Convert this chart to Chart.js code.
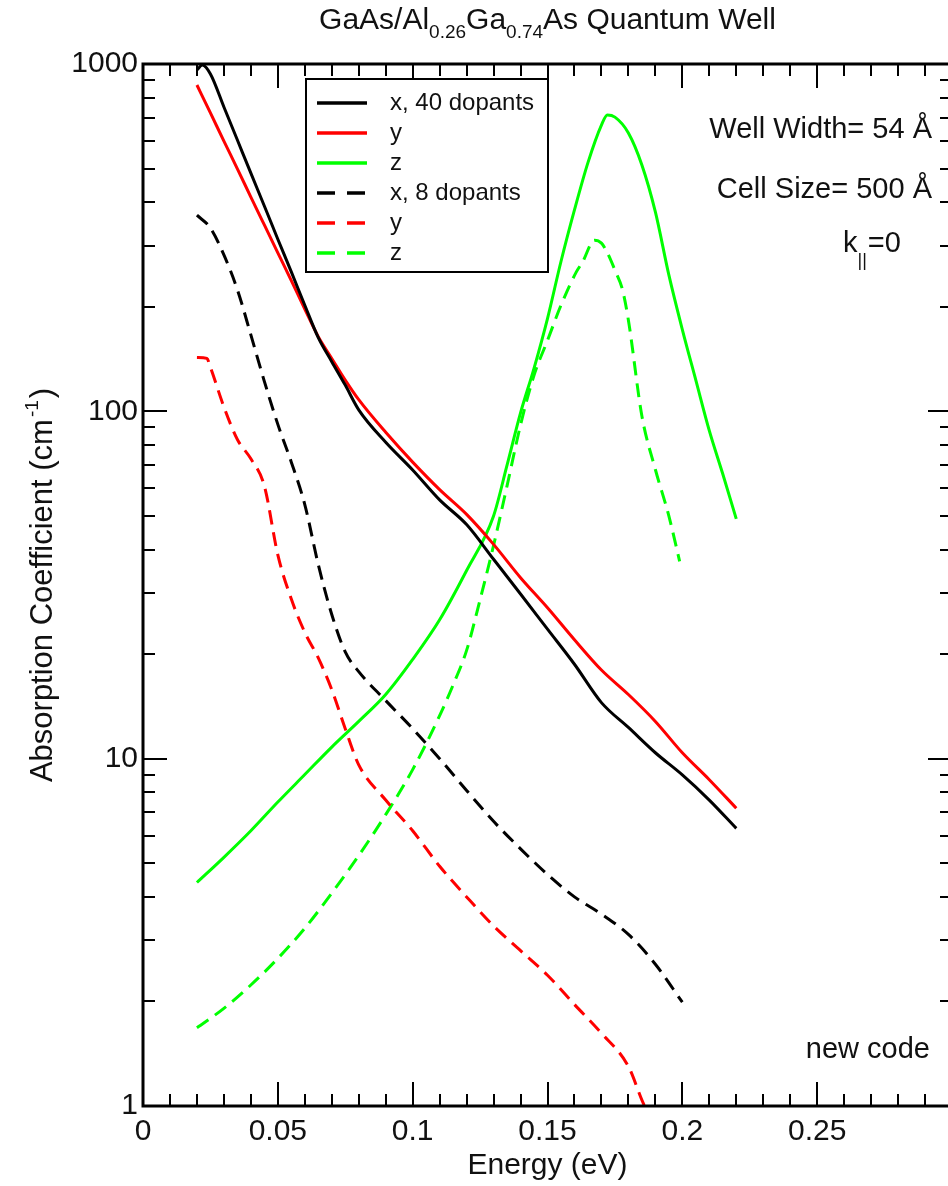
<!DOCTYPE html>
<html>
<head>
<meta charset="utf-8">
<title>GaAs/AlGaAs Quantum Well absorption</title>
<script src="https://cdn.jsdelivr.net/npm/chart.js@4.4.1/dist/chart.umd.min.js"></script>
<style>
  html, body { margin:0; padding:0; background:#fff; overflow:hidden; }
  #wrap { width:948px; height:1186px; overflow:hidden; }
  canvas { display:block; }
</style>
</head>
<body>
<div id="wrap"><canvas id="absChart" width="960" height="1186"></canvas></div>
<script>
/* ==========================
   data
   ========================== */
// x, 40 dopants
const eX40 = [0.020,0.022,0.025,0.030,0.035,0.040,0.045,0.050,0.055,0.060,0.065,0.070,0.075,0.080,0.090,0.100,0.110,0.120,0.130,0.140,0.150,0.160,0.170,0.180,0.190,0.200,0.210,0.220];
const aX40 = [961,993,936,752,604,485,390,313,252,202,163,139,119,101,81.5,67.8,55.6,47.2,37.5,29.8,23.6,18.7,14.5,12.3,10.4,8.98,7.6,6.3];
// y, 40 dopants
const eY40 = [0.020,0.025,0.030,0.035,0.040,0.045,0.050,0.055,0.060,0.065,0.070,0.075,0.080,0.090,0.100,0.110,0.120,0.130,0.140,0.150,0.160,0.170,0.180,0.190,0.200,0.210,0.220];
const aY40 = [870,723,600,499,414,344,286,238,197,164,142,123,108,87,71.4,59.5,50.5,41.4,33.2,27.2,22,18,15.3,12.8,10.4,8.7,7.2];
// z, 40 dopants
const eZ40 = [0.020,0.030,0.040,0.050,0.060,0.070,0.080,0.090,0.100,0.110,0.120,0.130,0.135,0.140,0.145,0.150,0.155,0.160,0.165,0.170,0.1722,0.175,0.180,0.185,0.190,0.195,0.200,0.205,0.210,0.215,0.220];
const aZ40 = [4.4,5.2,6.2,7.5,9.0,10.8,12.8,15.3,19.3,25.1,34.8,50,70,99,133,185,270,380,520,667,713,703,633,512,375,247,172,123,88,66,49];
// x, 8 dopants
const eX8 = [0.020,0.025,0.030,0.035,0.040,0.045,0.050,0.055,0.060,0.065,0.070,0.075,0.080,0.090,0.100,0.110,0.120,0.130,0.140,0.150,0.160,0.170,0.180,0.190,0.200];
const aX8 = [367,337,282,224,166,122,91.7,71.4,53.9,36.2,26,20.3,17.8,14.7,12.2,10,8.1,6.6,5.5,4.64,4.0,3.57,3.12,2.56,1.99];
// y, 8 dopants
const eY8 = [0.020,0.0237,0.025,0.030,0.035,0.040,0.045,0.050,0.055,0.060,0.065,0.070,0.075,0.080,0.090,0.100,0.110,0.120,0.130,0.140,0.150,0.160,0.170,0.180,0.186,0.190];
const aY8 = [143,142,134,103,83,73,61,38.6,28.8,23.1,19.5,15.8,12.2,9.6,7.6,6.2,4.9,4.0,3.3,2.8,2.38,1.96,1.62,1.3,1.0,0.9];
// z, 8 dopants
const eZ8 = [0.020,0.030,0.040,0.050,0.060,0.070,0.080,0.090,0.100,0.110,0.115,0.120,0.125,0.130,0.135,0.140,0.145,0.150,0.155,0.1607,0.163,0.1674,0.170,0.1722,0.175,0.1778,0.180,0.185,0.190,0.195,0.199];
const aZ8 = [1.68,1.91,2.23,2.66,3.25,4.1,5.26,6.9,9.3,13.3,16.3,20.5,28.7,41.1,61,91.4,127,160,202,252,269,311,305,286,255,224,183,97,68,50,37];

const legendLabels = ["x, 40 dopants","y","z","x, 8 dopants","y","z"];
const xTickValues = [0,0.05,0.1,0.15,0.2,0.25,0.3];
const yTickValues = [1,10,100,1000];

const FONT = '"Liberation Sans", Arial, Helvetica, sans-serif';
const BLACK = '#000000', RED = '#ff0000', GREEN = '#00ff00';
const DASH = [14,8];

function pts(xs, ys){ return xs.map((x,i)=>({x:x, y:ys[i]})); }
function line(label, xs, ys, color, dashed){
  return {
    label: label,
    data: pts(xs, ys),
    borderColor: color,
    backgroundColor: color,
    borderWidth: 3,
    borderDash: dashed ? DASH : [],
    pointRadius: 0,
    fill: false,
    cubicInterpolationMode: 'monotone'
  };
}

/* ==========================
   decorations: frame, ticks, legend, texts
   ========================== */
const decor = {
  id: 'decor',
  afterDatasetsDraw(chart){
    const ctx = chart.ctx, a = chart.chartArea;
    const xs = chart.scales.x, ys = chart.scales.y;
    ctx.save();
    ctx.strokeStyle = '#000';

    // inward ticks on four sides
    ctx.lineWidth = 2;
    ctx.beginPath();
    for(let i=1;i<30;i++){
      const px = Math.round(xs.getPixelForValue(i/100));
      const len = (i%5===0) ? 24 : 12;
      ctx.moveTo(px, a.bottom); ctx.lineTo(px, a.bottom-len);
      ctx.moveTo(px, a.top); ctx.lineTo(px, a.top+len);
    }
    for(let d=0; d<3; d++){
      for(let m=1;m<=9;m++){
        const v = m*Math.pow(10,d);
        if(v===1) continue;
        const py = Math.round(ys.getPixelForValue(v));
        const len = (m===1) ? 24 : 12;
        ctx.moveTo(a.left, py); ctx.lineTo(a.left+len, py);
        ctx.moveTo(a.right, py); ctx.lineTo(a.right-len, py);
      }
    }
    ctx.stroke();

    // frame
    ctx.lineWidth = 3;
    ctx.strokeRect(a.left, a.top, a.right-a.left, a.bottom-a.top);

    // legend box
    const lb = {l:306, t:79, r:548, b:272};
    ctx.fillStyle = '#fff';
    ctx.fillRect(lb.l, lb.t, lb.r-lb.l, lb.b-lb.t);
    ctx.lineWidth = 2;
    ctx.strokeRect(lb.l, lb.t, lb.r-lb.l, lb.b-lb.t);
    ctx.font = '24px ' + FONT;
    ctx.textBaseline = 'middle';
    ctx.textAlign = 'left';
    chart.data.datasets.forEach((ds, i) => {
      const cy = 103 + i*30;
      ctx.strokeStyle = ds.borderColor;
      ctx.lineWidth = 3.5;
      ctx.setLineDash(ds.borderDash.length ? [18,12] : []);
      ctx.beginPath(); ctx.moveTo(317, cy); ctx.lineTo(367, cy); ctx.stroke();
      ctx.setLineDash([]);
      ctx.fillStyle = '#111';
      ctx.fillText(legendLabels[i], 390, cy);
    });

    // annotations
    ctx.fillStyle = '#111';
    ctx.textBaseline = 'alphabetic';
    ctx.font = '29px ' + FONT;
    ctx.textAlign = 'right';
    ctx.fillText('Well Width= 54 \u00C5', 932, 138);
    ctx.fillText('Cell Size= 500 \u00C5', 932, 198);
    ctx.fillText('new code', 930, 1058);
    // k|| = 0
    ctx.textAlign = 'left';
    const kx = 843;
    ctx.fillText('k', kx, 252);
    const kw = ctx.measureText('k').width;
    ctx.font = '18px ' + FONT;
    ctx.fillText('||', kx+kw, 266);
    const sw = ctx.measureText('||').width;
    ctx.font = '29px ' + FONT;
    ctx.fillText('=0', kx+kw+sw+1, 252);

    // title with subscripts
    const parts = [['GaAs/Al',0],['0.26',1],['Ga',0],['0.74',1],['As Quantum Well',0]];
    const tFont = p => (p[1] ? '19px ' : '30px ') + FONT;
    let tw = 0;
    parts.forEach(p => { ctx.font = tFont(p); tw += ctx.measureText(p[0]).width; });
    let tx = (a.left + a.right)/2 - tw/2;
    parts.forEach(p => {
      ctx.font = tFont(p);
      ctx.fillText(p[0], tx, p[1] ? 38 : 29);
      tx += ctx.measureText(p[0]).width;
    });

    // y axis title (rotated) with superscript
    ctx.save();
    ctx.translate(52, (a.top+a.bottom)/2);
    ctx.rotate(-Math.PI/2);
    const yp = [['Absorption Coefficient (cm',0],['-1',1],[')',0]];
    const yFont = p => (p[1] ? '19px ' : '31px ') + FONT;
    let yw = 0;
    yp.forEach(p => { ctx.font = yFont(p); yw += ctx.measureText(p[0]).width + (p[1]?4:0); });
    let yx = -yw/2;
    yp.forEach(p => {
      ctx.font = yFont(p);
      ctx.fillText(p[0], yx + (p[1]?2:0), p[1] ? -14 : 0);
      yx += ctx.measureText(p[0]).width + (p[1]?4:0);
    });
    ctx.restore();

    ctx.restore();
  }
};

/* ==========================
   chart
   ========================== */
const ctx = document.getElementById('absChart').getContext('2d');
new Chart(ctx, {
  type: 'line',
  data: {
    datasets: [
      line(legendLabels[0], eX40, aX40, BLACK, false),
      line(legendLabels[1], eY40, aY40, RED, false),
      line(legendLabels[2], eZ40, aZ40, GREEN, false),
      line(legendLabels[3], eX8, aX8, BLACK, true),
      line(legendLabels[4], eY8, aY8, RED, true),
      line(legendLabels[5], eZ8, aZ8, GREEN, true)
    ]
  },
  options: {
    responsive: false,
    animation: false,
    devicePixelRatio: 1,
    layout: { padding: { top: 64, right: 7, left: 0, bottom: 0 } },
    plugins: { legend: { display: false }, tooltip: { enabled: false } },
    scales: {
      x: {
        type: 'linear', min: 0, max: 0.3,
        grid: { display: false, drawTicks: false },
        border: { display: false },
        afterBuildTicks: s => { s.ticks = xTickValues.map(v => ({value: v})); },
        afterFit: s => { s.height = 80; },
        ticks: {
          color: '#111', padding: 8, maxRotation: 0, autoSkip: false,
          font: { family: FONT, size: 30 },
          callback: v => v > 0.29 ? '' : String(Math.round(v*100)/100)
        },
        title: { display: true, text: 'Energy (eV)', color: '#111',
                 font: { family: FONT, size: 30 }, padding: { top: 0, bottom: 2 } }
      },
      y: {
        type: 'logarithmic', min: 1, max: 1000,
        grid: { display: false, drawTicks: false },
        border: { display: false },
        afterBuildTicks: s => { s.ticks = yTickValues.map(v => ({value: v})); },
        afterFit: s => { s.width = 143; },
        ticks: {
          color: '#111', padding: 5,
          font: { family: FONT, size: 30 },
          callback: v => String(v)
        }
      }
    }
  },
  plugins: [decor]
});
</script>
</body>
</html>
